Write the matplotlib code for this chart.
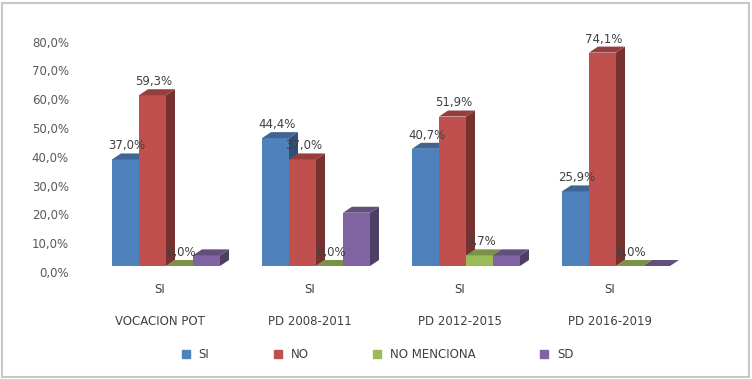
import numpy as np
import matplotlib
matplotlib.use('Agg')
import matplotlib.pyplot as plt
from matplotlib.patches import Rectangle
from matplotlib.lines import Line2D
from matplotlib.transforms import ScaledTranslation
from matplotlib.colors import to_rgb

plt.rcParams['font.family'] = ['DejaVu Sans']

groups = ['VOCACION POT', 'PD 2008-2011', 'PD 2012-2015', 'PD 2016-2019']
sub_label = 'SI'
series = ['SI', 'NO', 'NO MENCIONA', 'SD']
si = [37.0, 44.4, 40.7, 25.9]
no = [59.3, 37.0, 51.9, 74.1]
no_menciona = [0.0, 0.0, 3.7, 0.0]
sd = [3.7, 18.5, 3.7, 0.0]
show_labels = [True, True, True, False]
yticks = [0, 10, 20, 30, 40, 50, 60, 70, 80]

colors = ['#4F81BD', '#C0504D', '#9BBB59', '#8064A2']
values = [si, no, no_menciona, sd]


def shade(c, f):
    r, g, b = to_rgb(c)
    return (r * f, g * f, b * f)


W, H = 752, 379
fig = plt.figure(figsize=(W / 100, H / 100), dpi=100)
# axes spans pixel x 80..700, y 30..266 (266 = zero line)
ax = fig.add_axes([80 / W, (H - 266) / H, 620 / W, 236 / H])
ax.set_xlim((80 - 166) / 150, (700 - 166) / 150)
ax.set_ylim(0, 236 / 2.88)

w = 0.18
dx = 0.06
dy = 2.08
for g in range(len(groups)):
    x_start = g - 2 * w
    for s in range(len(series)):
        v = values[s][g]
        x0 = x_start + s * w
        c = colors[s]
        # side
        ax.fill([x0 + w, x0 + w + dx, x0 + w + dx, x0 + w],
                [0, dy, v + dy, v], color=shade(c, 0.62), lw=0, clip_on=False)
        # front
        ax.fill([x0, x0 + w, x0 + w, x0], [0, 0, v, v], color=c, lw=0,
                clip_on=False)
        # top
        ax.fill([x0, x0 + w, x0 + w + dx, x0 + dx],
                [v, v, v + dy, v + dy], color=shade(c, 0.78), lw=0,
                clip_on=False)
        if show_labels[s]:
            ax.text(x0 + w / 2 + 0.01, v + 4.7, ('%.1f%%' % v).replace('.', ','),
                    ha='center', va='center', fontsize=8.5, color='#404040',
                    zorder=10)
    ax.text(g - 0.04, -8.3, sub_label, ha='center', va='center',
            fontsize=8.5, color='#404040', clip_on=False)
    ax.text(g - 0.04, -19.1, groups[g], ha='center', va='center',
            fontsize=8.5, color='#404040', clip_on=False)

ax.set_yticks(yticks)
ax.set_yticklabels([('%.1f%%' % t).replace('.', ',') for t in yticks],
                   fontsize=8.5, color='#595959')
ax.tick_params(axis='y', length=0, pad=8)
ax.set_xticks([])
for lab in ax.get_yticklabels():
    lab.set_transform(lab.get_transform() +
                      ScaledTranslation(0, -6 / 100, fig.dpi_scale_trans))
for sp in ax.spines.values():
    sp.set_visible(False)

handles = [Line2D([], [], marker='s', linestyle='none', markersize=5.5,
                  markerfacecolor=c, markeredgecolor=c) for c in colors]
fig.legend(handles, series, loc='center', bbox_to_anchor=(0.497, (H - 355) / H),
           ncol=4, frameon=False, fontsize=8.5, columnspacing=4.8,
           handletextpad=0.1, labelcolor='#404040')

fig.patches.append(Rectangle((2 / W, 2 / H), (W - 5) / W, (H - 5) / H,
                             transform=fig.transFigure, fill=False,
                             edgecolor='#c8c8c8', linewidth=1.5))

fig.savefig('out.png', dpi=100)
